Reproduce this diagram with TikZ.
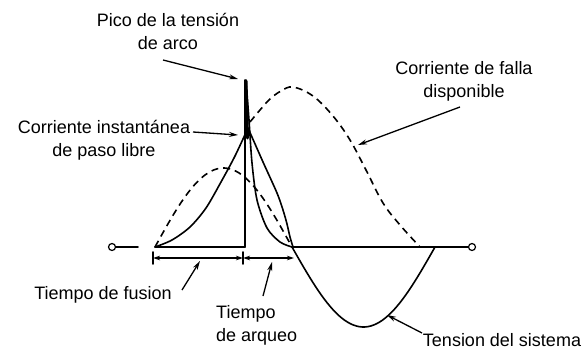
\documentclass[tikz,border=0pt]{standalone}
\usepackage{fontspec}
\setmainfont{Liberation Sans}
\usetikzlibrary{arrows.meta}
\begin{document}
\begin{tikzpicture}[x=1pt,y=-1pt,
  curve/.style={line width=1.6pt, line join=round, line cap=round},
  dsh/.style={line width=1.6pt, dash pattern=on 7pt off 5pt},
  lbl/.style={font=\fontsize{18}{23}\selectfont, inner sep=0pt, align=center},
  ptr/.style={line width=1.3pt, -{Stealth[length=9pt,width=5pt]}},
  dim/.style={line width=1.3pt, {Stealth[length=7pt,width=4.5pt]}-{Stealth[length=7pt,width=4.5pt]}},
  term/.style={circle, draw, line width=1.2pt, minimum size=7pt, inner sep=0pt}]
\useasboundingbox (0,0) rectangle (585,350);

% terminals and axis
\node[term] (inL) at (112,247) {};
\node[term] (inR) at (472,247) {};
\draw[curve] (inL.east) -- (138,247);
\draw[curve] (292,247) -- (inR.west);
\draw[curve] (155,247) -- (245,247);

% system voltage: dashed positive half, solid negative half
\draw[dsh] plot[domain=0:1,samples=50] ({155+137*\x},{247-79*sin(180*\x)});
\draw[curve] plot[domain=0:1,samples=50] ({292+143*\x},{247+80*sin(180*\x)});

% available fault current (dashed)
\draw[dsh] plot[smooth,tension=0.6] coordinates {(250,122) (260,110) (270,99) (281,91) (293,87) (313,96) (333,116) (350,140) (366,170) (383,203) (400,225) (420,247)};

% let-through current
\draw[curve] plot[smooth,tension=0.5] coordinates {(155,247) (172,240) (190,227) (206,208) (221,182) (235,156) (248,128)};
\draw[curve] plot[smooth] coordinates {(248,128) (263,162) (277,193) (283,210) (287,224) (290,237) (293,247)};

% arc voltage
\draw[curve] (245,247) -- (245,80);
\draw[line width=3pt, line cap=round] (246,81) -- (247.5,138);
\draw[curve] plot[smooth] coordinates {(246,80) (249,120) (252,163) (257,200) (267,228) (280,242) (292,247)};

% time marks
\draw[curve] (153,252) -- (153,264);
\draw[curve] (243,252) -- (243,264);
\coordinate (t0) at (153,258);
\coordinate (t1) at (243,258);
\coordinate (t2) at (294,258);
\draw[dim] (t0) -- (t1);
\draw[dim] (t1) -- (t2);

% labels
\node[lbl] (pico) at (168,31) {Pico de la tensión\\de arco};
\coordinate (picoA) at (163,60); \coordinate (picoB) at (238,79);
\draw[ptr] (picoA) -- (picoB);

\node[lbl] (cinst) at (104,140) {Corriente instantánea\\de paso libre};
\coordinate (cinstA) at (193,132); \coordinate (cinstB) at (238,135);
\draw[ptr] (cinstA) -- (cinstB);

\node[lbl] (cfalla) at (464,81) {Corriente de falla\\disponible};
\coordinate (cfallaA) at (460,107); \coordinate (cfallaB) at (358,145);
\draw[ptr] (cfallaA) -- (cfallaB);

\node[lbl] (tfus) at (103,295) {Tiempo de fusion};
\coordinate (tfusA) at (182,290); \coordinate (tfusB) at (200,261);
\draw[ptr] (tfusA) -- (tfusB);

\node[lbl,align=left,anchor=west] (tarq) at (216,325) {Tiempo\\de arqueo};
\coordinate (tarqA) at (263,296); \coordinate (tarqB) at (272,262);
\draw[ptr] (tarqA) -- (tarqB);

\node[lbl] (tsis) at (502,340) {Tension del sistema};
\coordinate (tsisA) at (422,333); \coordinate (tsisB) at (387,315);
\draw[ptr] (tsisA) -- (tsisB);
\end{tikzpicture}
\end{document}
